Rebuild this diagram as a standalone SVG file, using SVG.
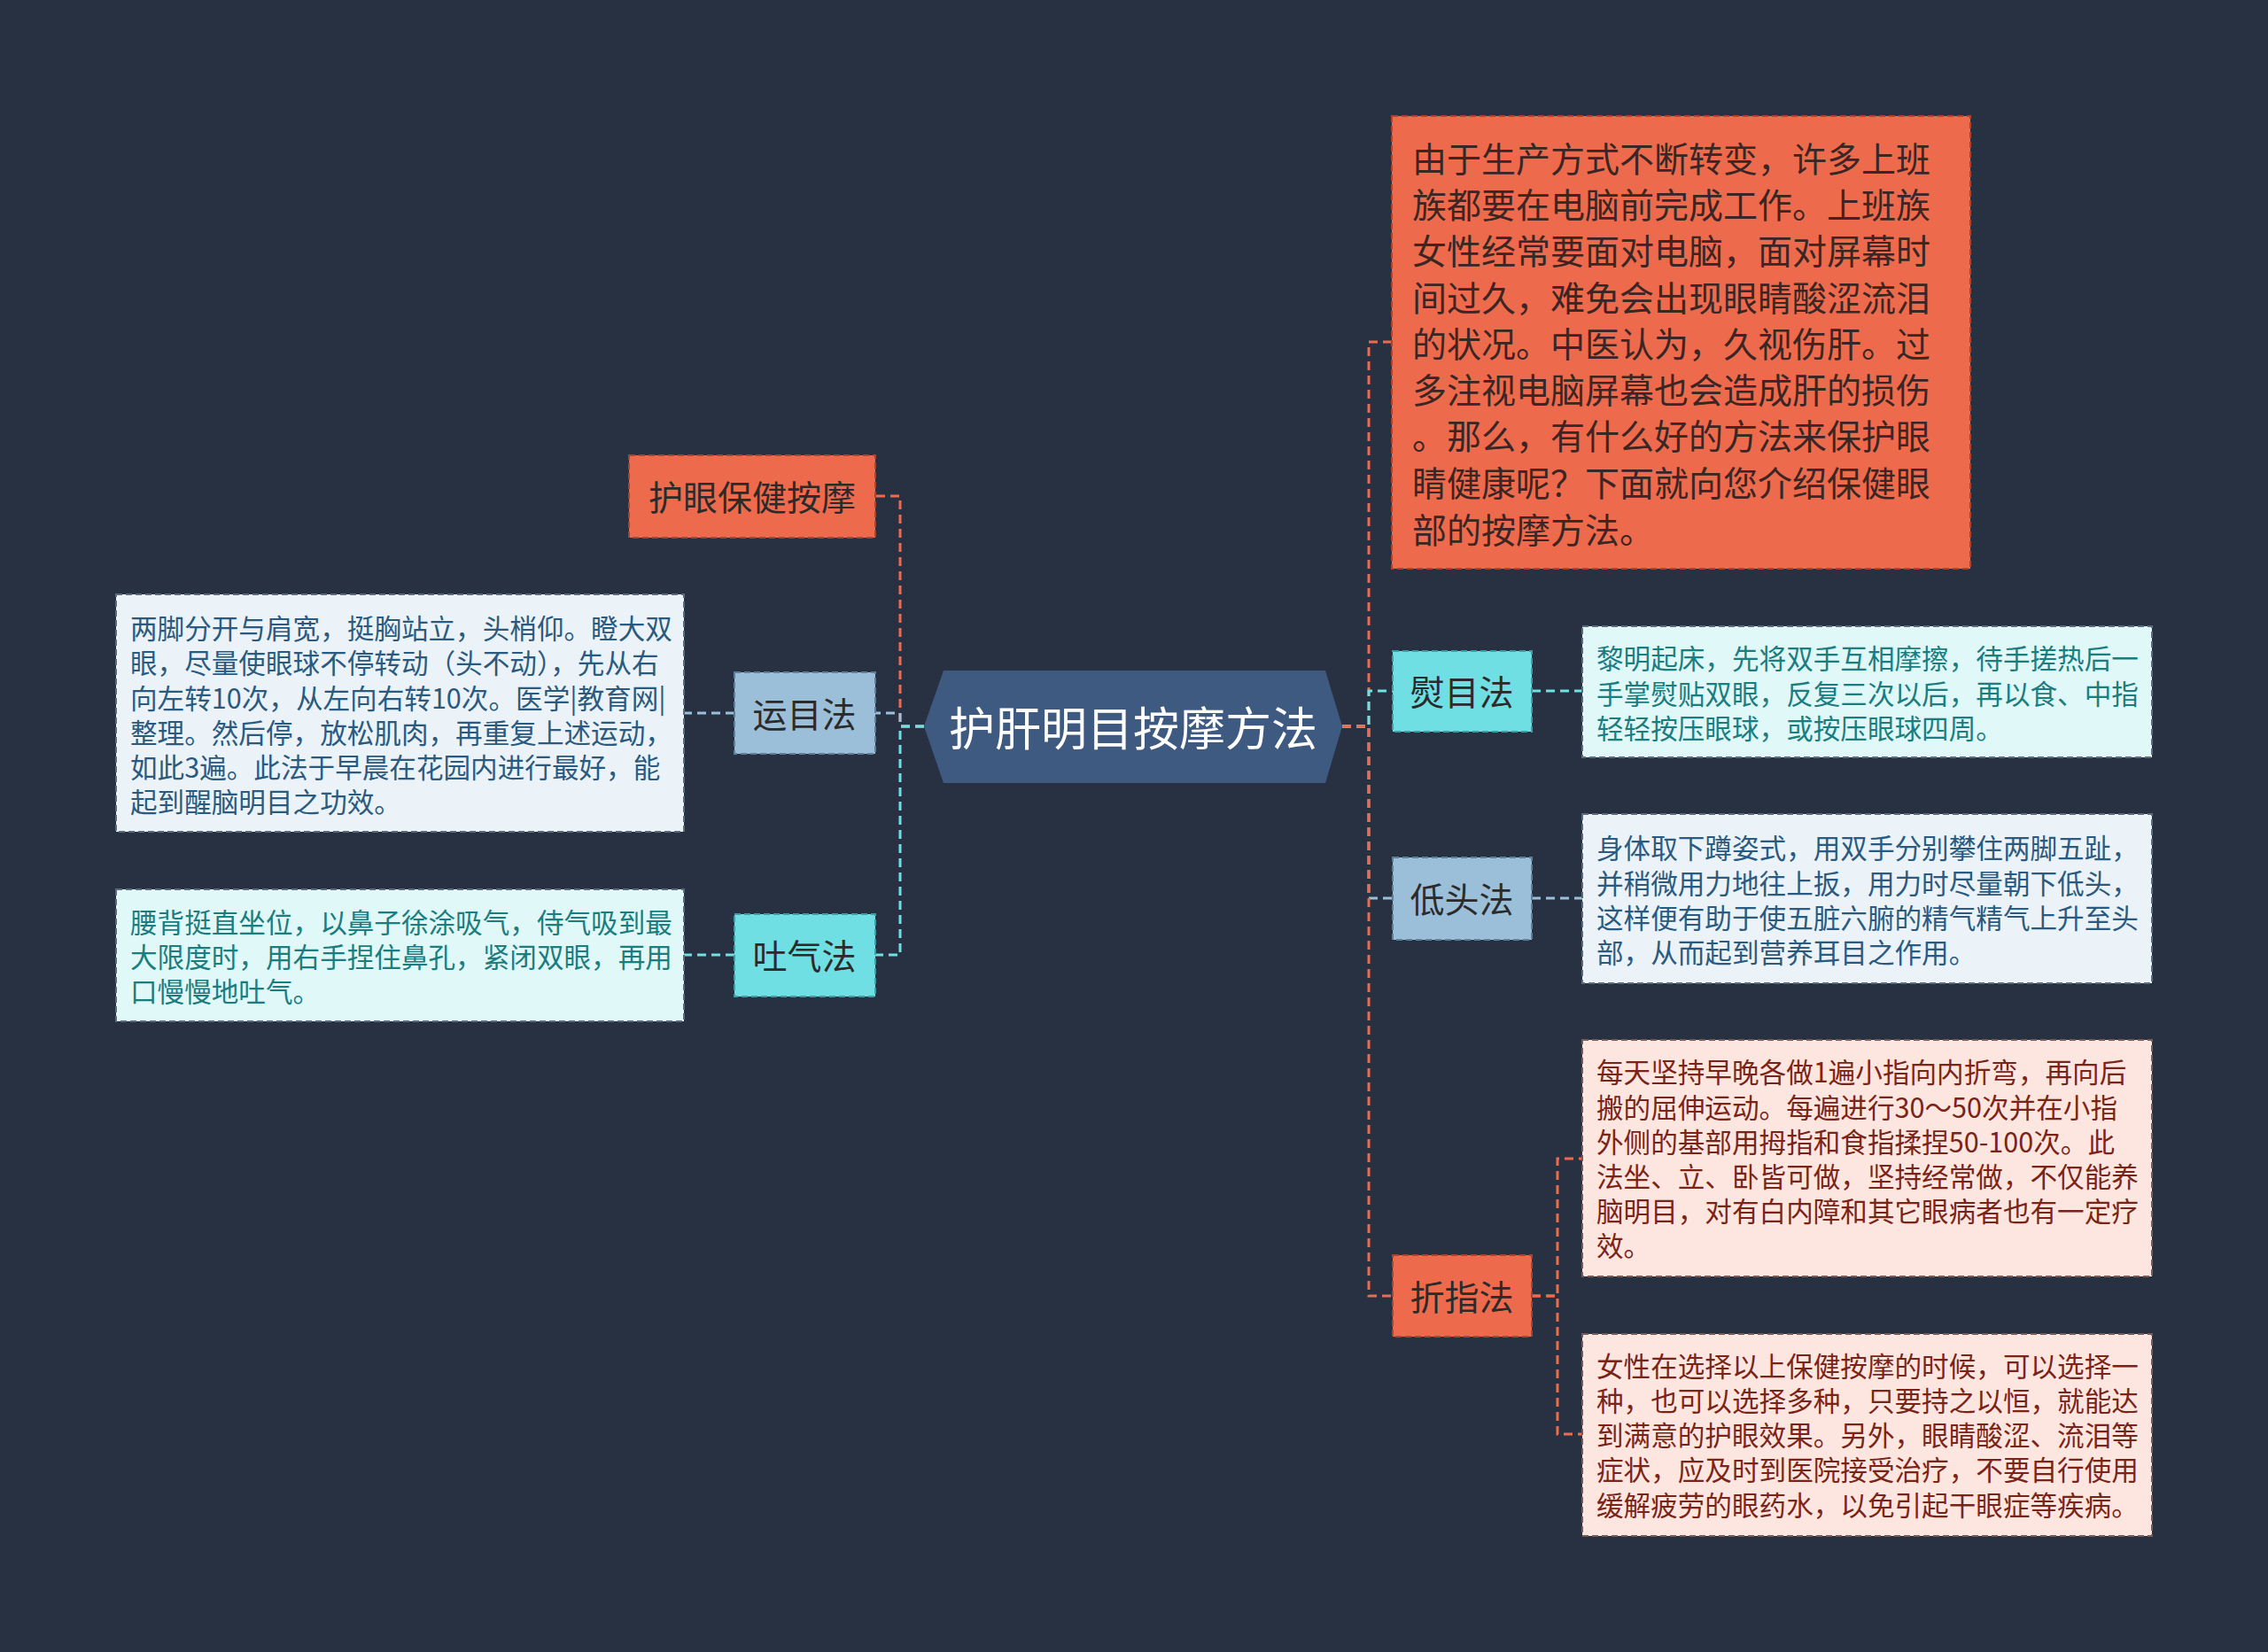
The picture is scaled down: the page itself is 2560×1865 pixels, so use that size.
<svg xmlns="http://www.w3.org/2000/svg" width="2560" height="1865" viewBox="0 0 2560 1865">
<defs>
<style>
text{font-family:"Noto Sans CJK SC","Noto Sans",sans-serif;dominant-baseline:central}
.lbl{font-size:39px;fill:#2b2b2b;text-anchor:middle}
.det{font-size:30.6px}
.c{fill:none;stroke-width:3;stroke-dasharray:10 6}
.or{stroke:#ee6a4c}.bl{stroke:#9bbfd9}.cy{stroke:#6fdfe4}
.bd{stroke-width:2;stroke-dasharray:7 4}
</style>
</defs>
<rect width="2560" height="1865" fill="#283142"/>
<g id="connectors">
<path class="c or" d="M1043 820H1016V560H988"/>
<path class="c bl" d="M1043 820H1016V805H988"/>
<path class="c cy" d="M1043 820H1016V1078H988"/>
<path class="c bl" d="M829 805H772"/>
<path class="c cy" d="M829 1078H772"/>
<path class="c or" d="M1515 820H1545V386H1571"/>
<path class="c cy" d="M1515 820H1545V780H1572"/>
<path class="c bl" d="M1515 820H1545V1014H1572"/>
<path class="c or" d="M1515 820H1545V1463H1572"/>
<path class="c cy" d="M1729 780H1786"/>
<path class="c bl" d="M1729 1014H1786"/>
<path class="c or" d="M1729 1463H1758V1308H1786"/>
<path class="c or" d="M1729 1463H1758V1619H1786"/>
</g>
<g id="root">
<polygon points="1043,820 1065,757 1496,757 1515,820 1496,884 1065,884" fill="#3e5a80"/>
<text x="1279" y="819" font-size="52" fill="#ffffff" text-anchor="middle">护肝明目按摩方法</text>
</g>
<g id="n-huyan">
<rect x="710" y="514" width="278" height="93" fill="#ee6a4c" class="bd" stroke="#a8452f"/>
<text class="lbl" x="849" y="559">护眼保健按摩</text>
</g>
<g id="n-yunmu">
<rect x="829" y="759" width="159" height="92" fill="#9bbfd9" class="bd" stroke="#5f7f99"/>
<text class="lbl" x="908" y="804">运目法</text>
</g>
<g id="d-yunmu">
<rect x="131" y="671" width="641" height="268" fill="#ebf3f8" class="bd" stroke="#5a6b7c"/>
<g class="det" fill="#2a5a80">
<text x="147" y="708">两脚分开与肩宽，挺胸站立，头梢仰。瞪大双</text>
<text x="147" y="747">眼，尽量使眼球不停转动（头不动），先从右</text>
<text x="147" y="787">向左转10次，从左向右转10次。医学|教育网|</text>
<text x="147" y="826">整理。然后停，放松肌肉，再重复上述运动，</text>
<text x="147" y="865">如此3遍。此法于早晨在花园内进行最好，能</text>
<text x="147" y="904">起到醒脑明目之功效。</text>
</g>
</g>
<g id="n-tuqi">
<rect x="829" y="1032" width="159" height="93" fill="#6fdfe4" class="bd" stroke="#3e9ea3"/>
<text class="lbl" x="908" y="1077">吐气法</text>
</g>
<g id="d-tuqi">
<rect x="131" y="1004" width="641" height="149" fill="#e0f8f8" class="bd" stroke="#5a6b7c"/>
<g class="det" fill="#1a7d80">
<text x="147" y="1040">腰背挺直坐位，以鼻子徐涂吸气，侍气吸到最</text>
<text x="147" y="1079">大限度时，用右手捏住鼻孔，紧闭双眼，再用</text>
<text x="147" y="1118">口慢慢地吐气。</text>
</g>
</g>
<g id="n-intro">
<rect x="1571" y="131" width="653" height="511" fill="#ee6a4c" class="bd" stroke="#a8452f"/>
<g font-size="39" fill="#3a2624">
<text x="1594" y="177">由于生产方式不断转变，许多上班</text>
<text x="1594" y="229">族都要在电脑前完成工作。上班族</text>
<text x="1594" y="281">女性经常要面对电脑，面对屏幕时</text>
<text x="1594" y="334">间过久，难免会出现眼睛酸涩流泪</text>
<text x="1594" y="386">的状况。中医认为，久视伤肝。过</text>
<text x="1594" y="438">多注视电脑屏幕也会造成肝的损伤</text>
<text x="1594" y="490">。那么，有什么好的方法来保护眼</text>
<text x="1594" y="543">睛健康呢？下面就向您介绍保健眼</text>
<text x="1594" y="596">部的按摩方法。</text>
</g>
</g>
<g id="n-yunmu2">
<rect x="1572" y="735" width="157" height="91" fill="#6fdfe4" class="bd" stroke="#3e9ea3"/>
<text class="lbl" x="1650" y="779">熨目法</text>
</g>
<g id="d-yunmu2">
<rect x="1786" y="707" width="643" height="148" fill="#e0f8f8" class="bd" stroke="#5a6b7c"/>
<g class="det" fill="#1a7d80">
<text x="1802" y="742">黎明起床，先将双手互相摩擦，待手搓热后一</text>
<text x="1802" y="782">手掌熨贴双眼，反复三次以后，再以食、中指</text>
<text x="1802" y="821">轻轻按压眼球，或按压眼球四周。</text>
</g>
</g>
<g id="n-ditou">
<rect x="1572" y="968" width="157" height="93" fill="#9bbfd9" class="bd" stroke="#5f7f99"/>
<text class="lbl" x="1650" y="1013">低头法</text>
</g>
<g id="d-ditou">
<rect x="1786" y="919" width="643" height="191" fill="#ebf3f8" class="bd" stroke="#5a6b7c"/>
<g class="det" fill="#2a5a80">
<text x="1802" y="956">身体取下蹲姿式，用双手分别攀住两脚五趾，</text>
<text x="1802" y="996">并稍微用力地往上扳，用力时尽量朝下低头，</text>
<text x="1802" y="1035">这样便有助于使五脏六腑的精气精气上升至头</text>
<text x="1802" y="1074">部，从而起到营养耳目之作用。</text>
</g>
</g>
<g id="n-zhezhi">
<rect x="1572" y="1417" width="157" height="92" fill="#ee6a4c" class="bd" stroke="#a8452f"/>
<text class="lbl" x="1650" y="1462">折指法</text>
</g>
<g id="d-zhezhi1">
<rect x="1786" y="1174" width="643" height="267" fill="#fde6df" class="bd" stroke="#7a5a55"/>
<g class="det" fill="#7a2418">
<text x="1802" y="1209">每天坚持早晚各做1遍小指向内折弯，再向后</text>
<text x="1802" y="1249">搬的屈伸运动。每遍进行30～50次并在小指</text>
<text x="1802" y="1288">外侧的基部用拇指和食指揉捏50-100次。此</text>
<text x="1802" y="1327">法坐、立、卧皆可做，坚持经常做，不仅能养</text>
<text x="1802" y="1366">脑明目，对有白内障和其它眼病者也有一定疗</text>
<text x="1802" y="1405">效。</text>
</g>
</g>
<g id="d-zhezhi2">
<rect x="1786" y="1506" width="643" height="228" fill="#fde6df" class="bd" stroke="#7a5a55"/>
<g class="det" fill="#7a2418">
<text x="1802" y="1541">女性在选择以上保健按摩的时候，可以选择一</text>
<text x="1802" y="1580">种，也可以选择多种，只要持之以恒，就能达</text>
<text x="1802" y="1619">到满意的护眼效果。另外，眼睛酸涩、流泪等</text>
<text x="1802" y="1658">症状，应及时到医院接受治疗，不要自行使用</text>
<text x="1802" y="1698">缓解疲劳的眼药水，以免引起干眼症等疾病。</text>
</g>
</g>
</svg>
